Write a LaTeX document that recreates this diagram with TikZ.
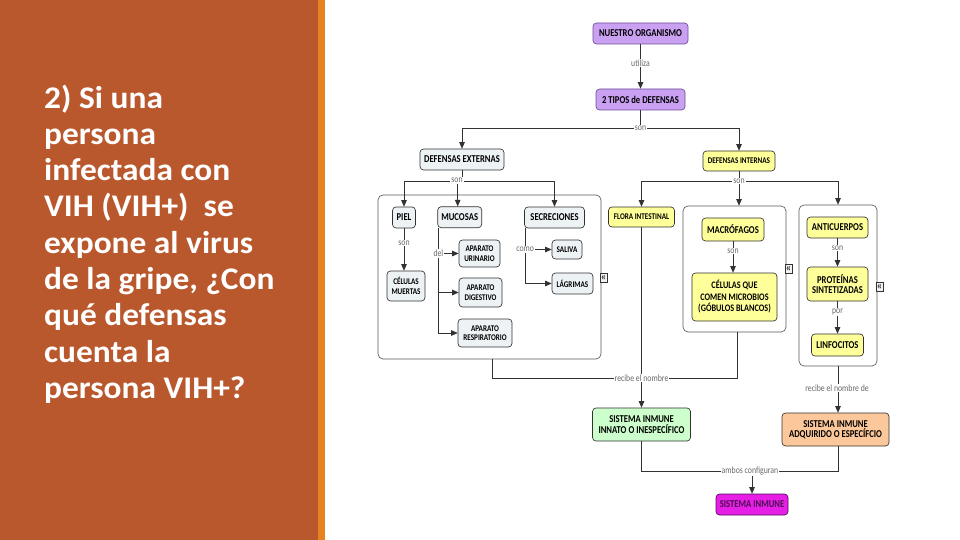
\documentclass[tikz,border=0pt]{standalone}
\usepackage{fontspec}
\setmainfont{Carlito}
\newfontfamily\boxfont[FakeStretch=0.82]{Carlito}
\newfontfamily\titlefont[FakeStretch=1.06]{Carlito}
\usetikzlibrary{arrows.meta,calc}
\definecolor{panel}{RGB}{186,88,45}
\definecolor{stripe}{RGB}{232,130,30}
\definecolor{purp}{RGB}{202,160,242}
\definecolor{purpb}{RGB}{110,75,150}
\definecolor{extf}{RGB}{237,242,245}
\definecolor{yel}{RGB}{255,255,153}
\definecolor{grn}{RGB}{204,255,204}
\definecolor{peach}{RGB}{252,200,155}
\definecolor{mag}{RGB}{230,30,230}
\definecolor{magt}{RGB}{75,15,80}
\definecolor{lbl}{RGB}{105,105,105}
\definecolor{edge}{RGB}{50,50,50}
\definecolor{grpb}{RGB}{90,90,90}
\begin{document}
\begin{tikzpicture}[x=1pt,y=-1pt,
  cpt/.style={draw=edge, line width=0.65pt, rounded corners=3.5pt, align=center, inner sep=0pt,
    font=\boxfont\bfseries\fontsize{10.5}{10.5}\selectfont},
  sm/.style={font=\boxfont\bfseries\fontsize{8.7}{9.6}\selectfont},
  md/.style={font=\boxfont\bfseries\fontsize{10}{11.5}\selectfont},
  grp/.style={draw=grpb, line width=0.65pt, rounded corners=5pt, fill=white},
  lab/.style={fill=white, text=lbl, inner sep=1pt, font=\boxfont\fontsize{9.5}{10}\selectfont},
  con/.style={draw=edge, line width=0.65pt},
  arr/.style={con, -{Triangle[length=6.5pt,width=5.5pt]}},
  icon/.style={draw=edge, fill=gray!10, line width=0.5pt, inner sep=0pt, minimum width=7pt,
    minimum height=9pt, text height=5pt, text depth=0pt, font=\fontsize{11}{11}\selectfont},
]
\useasboundingbox (0,0) rectangle (960,540);
\fill[white] (0,0) rectangle (960,540);
\fill[panel] (0,0) rectangle (318,540);
\fill[stripe] (318,0) rectangle (325,540);

\node[anchor=north west, align=left, text=white, inner sep=0pt,
  font=\titlefont\bfseries\fontsize{31.5}{36.3}\selectfont] (q) at (44,84.5)
  {2) Si una\\persona\\infectada con\\VIH (VIH+)~ se\\expone al virus\\de la gripe, ¿Con\\qué defensas\\cuenta la\\persona VIH+?};

% group boxes
\node[grp, minimum width=223pt, minimum height=164pt] (eg) at (489.5,277) {};
\node[grp, minimum width=103pt, minimum height=126pt] (mg) at (734.5,269) {};
\node[grp, minimum width=78pt, minimum height=161pt] (ag) at (838,285.5) {};

% concepts
\node[cpt, fill=purp, draw=purpb, minimum width=95pt, minimum height=21pt] (org) at (640.5,33.5) {NUESTRO ORGANISMO};
\node[cpt, fill=purp, draw=purpb, minimum width=89pt, minimum height=21pt] (tipos) at (640.5,99.5) {2 TIPOS de DEFENSAS};
\node[cpt, fill=extf, minimum width=84pt, minimum height=21pt] (ext) at (462,159.5) {DEFENSAS EXTERNAS};
\node[cpt, sm, fill=yel, minimum width=72pt, minimum height=20pt] (int) at (739,161) {DEFENSAS INTERNAS};

\node[cpt, fill=extf, minimum width=23pt, minimum height=21pt] (piel) at (404,217.5) {PIEL};
\node[cpt, fill=extf, minimum width=44pt, minimum height=21pt] (muc) at (459.7,217.2) {MUCOSAS};
\node[cpt, fill=extf, minimum width=60pt, minimum height=21pt] (secr) at (554.5,217.5) {SECRECIONES};
\node[cpt, sm, fill=extf, minimum width=38pt, minimum height=30pt] (cel) at (406,286) {CÉLULAS\\MUERTAS};
\node[cpt, sm, fill=extf, minimum width=41pt, minimum height=27pt] (uri) at (479.5,253.5) {APARATO\\URINARIO};
\node[cpt, sm, fill=extf, minimum width=43pt, minimum height=29pt] (dig) at (480.5,292.5) {APARATO\\DIGESTIVO};
\node[cpt, sm, fill=extf, minimum width=54pt, minimum height=28pt] (resp) at (485,333) {APARATO\\RESPIRATORIO};
\node[cpt, sm, fill=extf, minimum width=30pt, minimum height=19pt] (sal) at (567,249.5) {SALIVA};
\node[cpt, sm, fill=extf, minimum width=41pt, minimum height=21pt] (lag) at (572.5,283.5) {LÁGRIMAS};

\node[cpt, sm, fill=yel, minimum width=66pt, minimum height=20pt] (flora) at (641.5,217) {FLORA INTESTINAL};
\node[cpt, fill=yel, minimum width=62pt, minimum height=23pt] (mac) at (733,229.5) {MACRÓFAGOS};
\node[cpt, md, fill=yel, minimum width=85pt, minimum height=48pt] (celq) at (734.5,297) {CÉLULAS QUE\\COMEN MICROBIOS\\(GÓBULOS BLANCOS)};
\node[cpt, fill=yel, minimum width=61pt, minimum height=21pt] (anti) at (837.5,227.5) {ANTICUERPOS};
\node[cpt, fill=yel, minimum width=61pt, minimum height=34pt] (prot) at (837.5,284) {PROTEÍNAS\\SINTETIZADAS};
\node[cpt, fill=yel, minimum width=52pt, minimum height=22pt] (linf) at (837.5,345) {LINFOCITOS};

\node[cpt, fill=grn, minimum width=98pt, minimum height=33pt] (innato) at (641.5,424.5) {SISTEMA INMUNE\\INNATO O INESPECÍFICO};
\node[cpt, fill=peach, minimum width=107pt, minimum height=33pt] (adq) at (835.5,429.5) {SISTEMA INMUNE\\ADQUIRIDO O ESPECÍFCIO};
\node[cpt, fill=mag, text=magt, draw=magt, minimum width=72pt, minimum height=21pt] (sist) at (752,504.5) {SISTEMA INMUNE};

% collapse icons
\node[icon] (i1) at (603.5,277.5) {«};
\node[icon] (i2) at (788.5,269) {«};
\node[icon] (i3) at (879.5,286.5) {«};

% connectors
\draw[arr] (org.south) -- (tipos.north);
\node[lab] (l0) at (640.5,63) {utiliza};

\coordinate (j1) at (640.5,128);
\draw[con] (tipos.south) -- (j1);
\draw[arr] (j1) -| (ext.north);
\draw[arr] (j1) -| (int.north);
\node[lab] (l1) at (j1) {son};

\coordinate (j2) at (462,181);
\draw[con] (ext.south) -- (j2);
\draw[arr] (j2) -| (piel.north);
\draw[arr] (j2) -| ($(muc.north)+(-2,0)$);
\draw[arr] (j2) -| (secr.north);
\node[lab] (l2) at (457,180.5) {son};

\draw[arr] (piel.south) -- (piel.south |- cel.north);
\node[lab] (l3) at (404,243) {son};

\coordinate (m0) at ($(muc.south west)+(1,0)$);
\coordinate (m3) at (m0 |- resp.west);
\draw[con] (m0) -- (m3);
\draw[arr] (m0 |- uri.west) -- (uri.west);
\draw[arr] (m0 |- dig.west) -- (dig.west);
\draw[arr] (m3) -- (resp.west);
\node[lab] (l4) at (m0 |- uri.west) {del};

\coordinate (s0) at ($(secr.south west)+(1,0)$);
\coordinate (s2) at (s0 |- lag.west);
\draw[con] (s0) -- (s2);
\draw[arr] (s0 |- sal.west) -- (sal.west);
\draw[arr] (s2) -- (lag.west);
\node[lab] (l5) at (s0 |- sal.west) {como};

\coordinate (j3) at (739,181);
\draw[con] (int.south) -- (j3);
\draw[arr] (j3) -| (flora.north);
\draw[arr] (j3) -- (j3 |- mg.north);
\draw[arr] (j3) -| (ag.north);
\node[lab] (l6) at (j3) {son};

\draw[arr] (mac.south) -- (mac.south |- celq.north);
\node[lab] (l7) at (733,251) {son};
\draw[arr] (anti.south) -- (prot.north);
\node[lab] (l8) at (837.5,248) {son};
\draw[arr] (prot.south) -- (linf.north);
\node[lab] (l9) at (837.5,312) {por};

\coordinate (e1) at ($(eg.south)+(2.5,0)$);
\coordinate (m1) at ($(mg.south)+(3,0)$);
\coordinate (rr) at (641.5,378);
\draw[con] (e1) |- (rr);
\draw[con] (m1) |- (rr);
\draw[arr] (flora.south) -- (innato.north);
\node[lab] (l10) at (rr) {recibe el nombre};

\draw[arr] (ag.south) -- (ag.south |- adq.north);
\node[lab] (l11) at (837,388) {recibe el nombre de};

\coordinate (a1) at (641.5,471);
\coordinate (a2) at (838,471);
\coordinate (a3) at (752,471);
\draw[con] (innato.south) -- (a1) -- (a2) -- (a2 |- adq.south);
\draw[arr] (a3) -- (sist.north);
\node[lab] (l12) at (750,471) {ambos configuran};
\end{tikzpicture}
\end{document}
